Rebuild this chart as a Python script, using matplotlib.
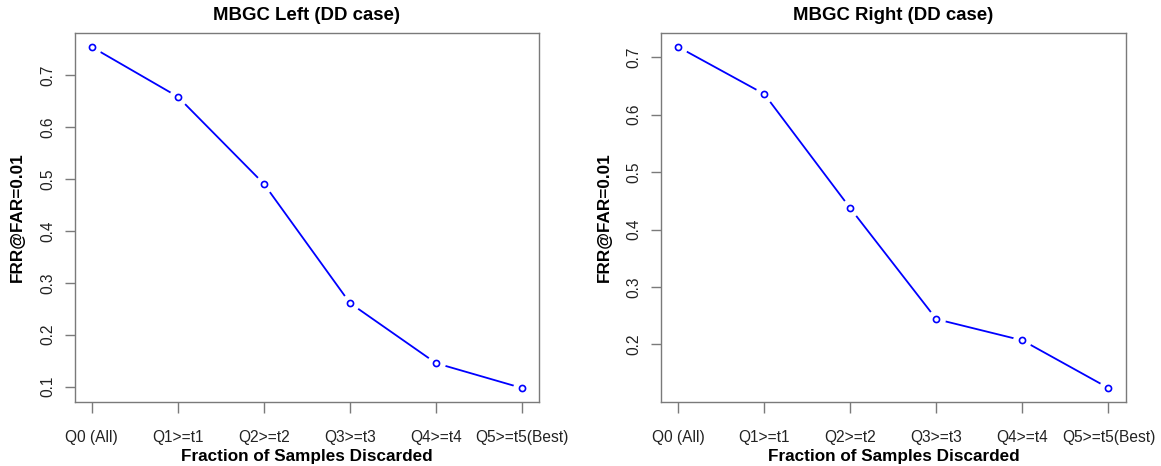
import matplotlib
matplotlib.use("Agg")
import matplotlib.pyplot as plt

plt.rcParams['font.family'] = ['Liberation Sans', 'DejaVu Sans']

categories = ["Q0 (All)", "Q1>=t1", "Q2>=t2", "Q3>=t3", "Q4>=t4", "Q5>=t5(Best)"]
left_values = [0.755, 0.659, 0.491, 0.261, 0.145, 0.097]
right_values = [0.718, 0.636, 0.437, 0.244, 0.207, 0.124]
left_yticks = [0.1, 0.2, 0.3, 0.4, 0.5, 0.6, 0.7]
right_yticks = [0.2, 0.3, 0.4, 0.5, 0.6, 0.7]
titles = ["MBGC Left (DD case)", "MBGC Right (DD case)"]
xlabel = "Fraction of Samples Discarded"
ylabel = "FRR@FAR=0.01"

W, H = 1161, 466
fig = plt.figure(figsize=(W / 100, H / 100), dpi=100)

FRAME = "#7a7a7a"
TXT = "#222222"
BLUE = "#0000ff"

def px_ax(x0, x1, ytop, ybot):
    return [x0 / W, 1 - ybot / H, (x1 - x0) / W, (ybot - ytop) / H]

panels = [
    (px_ax(74.5, 539.3, 33.3, 401.7), left_values, left_yticks, titles[0]),
    (px_ax(661.0, 1125.7, 33.3, 401.7), right_values, right_yticks, titles[1]),
]

for rect, vals, yt, title in panels:
    ax = fig.add_axes(rect)
    x = list(range(len(categories)))
    ax.plot(x, vals, color=BLUE, lw=1.3, zorder=2, solid_capstyle='butt')
    ax.plot(x, vals, ls='none', marker='o', ms=13.5, mfc='white', mec='none', zorder=3)
    ax.plot(x, vals, ls='none', marker='o', ms=4.4, mfc='white', mec=BLUE, mew=1.2, zorder=4)
    vmin, vmax = min(vals), max(vals)
    r = vmax - vmin
    ax.set_ylim(vmin - 0.04 * r, vmax + 0.04 * r)
    ax.set_xlim(-0.2, len(categories) - 1 + 0.2)
    ax.set_xticks(x)
    ax.set_xticklabels(categories)
    ax.set_yticks(yt)
    ax.set_yticklabels([f"{v:.1f}" for v in yt])
    for s in ax.spines.values():
        s.set_color(FRAME)
        s.set_linewidth(1.0)
    ax.tick_params(axis='x', length=7.9, width=1.0, color=FRAME, pad=12.5,
                   labelsize=11.2, labelcolor=TXT)
    ax.tick_params(axis='y', length=7.0, width=1.0, color=FRAME, pad=7.0,
                   labelsize=11.2, labelcolor=TXT)
    for lab in ax.get_yticklabels():
        lab.set_rotation(90)
        lab.set_va('center')
        lab.set_ha('right')
    bb = ax.get_position()
    cx = (bb.x0 + bb.x1) / 2
    fig.text(cx, 1 - 15.7 / H, title, ha='center', va='center',
             fontsize=13.4, fontweight='bold', color='black')
    fig.text(cx, 1 - 456.0 / H, xlabel, ha='center', va='center',
             fontsize=12.3, fontweight='bold', color='black')
    fig.text(bb.x0 - 57.0 / W, (bb.y0 + bb.y1) / 2, ylabel, ha='center', va='center',
             rotation=90, fontsize=12.3, fontweight='bold', color='black')

fig.savefig("out.png", dpi=100)
